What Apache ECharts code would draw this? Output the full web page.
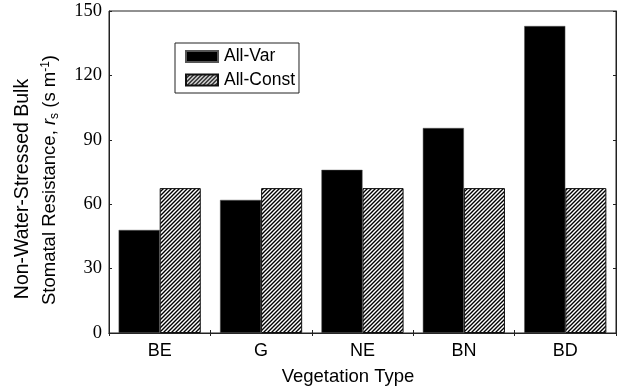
<!DOCTYPE html>
<html>
<head>
<meta charset="utf-8">
<script src="https://cdn.jsdelivr.net/npm/echarts@6/dist/echarts.min.js"></script>
<style>
html,body{margin:0;padding:0;background:#fff;}
#chart{width:621px;height:390px;}
</style>
</head>
<body>
<div id="chart"></div>
<script>
var categories = ['BE', 'G', 'NE', 'BN', 'BD'];
var allVar = [48, 62, 76, 95.5, 143];
var allConst = [67.5, 67.5, 67.5, 67.5, 67.5];
var seriesNames = ['All-Var', 'All-Const'];
var yTicks = {min: 0, max: 150, interval: 30};

function hatch() {
  var c = document.createElement('canvas');
  c.width = 4; c.height = 4;
  var g = c.getContext('2d');
  g.fillStyle = '#fff';
  g.fillRect(0, 0, 4, 4);
  g.strokeStyle = '#000';
  g.lineWidth = 1.4;
  g.beginPath();
  g.moveTo(-1, 5); g.lineTo(5, -1);
  g.moveTo(-1, 1); g.lineTo(1, -1);
  g.moveTo(3, 5); g.lineTo(5, 3);
  g.stroke();
  return c;
}
var pattern = {image: hatch(), repeat: 'repeat'};

var chart = echarts.init(document.getElementById('chart'), null, {renderer: 'canvas'});
var sans = 'Liberation Sans, Arial, sans-serif';
var serif = 'Liberation Serif, Times New Roman, serif';
var axisCol = '#222';

chart.setOption({
  animation: false,
  backgroundColor: '#fff',
  grid: {left: 109, right: 5, top: 11, bottom: 57, show: true, borderColor: axisCol, borderWidth: 1, backgroundColor: 'transparent'},
  legend: {
    orient: 'vertical', left: 175, top: 43,
    padding: [3.5, 4, 3, 10],
    itemWidth: 32, itemHeight: 11, itemGap: 3.5,
    borderColor: '#222', borderWidth: 1,
    icon: 'rect',
    textStyle: {fontFamily: sans, fontSize: 17.5, lineHeight: 20, color: '#000', padding: [0, 0, 0, 1]},
    data: seriesNames
  },
  xAxis: [{
    type: 'category', data: categories, position: 'bottom',
    axisLine: {lineStyle: {color: axisCol, width: 1}},
    axisTick: {show: true, inside: true, length: 3, lineStyle: {color: axisCol}},
    axisLabel: {fontFamily: sans, fontSize: 18, color: '#000', margin: 9}
  }, {
    type: 'category', data: categories, position: 'top',
    axisLine: {lineStyle: {color: axisCol, width: 1}},
    axisTick: {show: true, inside: true, length: 3, lineStyle: {color: axisCol}},
    axisLabel: {show: false}
  }],
  yAxis: [{
    type: 'value', min: yTicks.min, max: yTicks.max, interval: yTicks.interval,
    axisLine: {show: true, lineStyle: {color: axisCol, width: 1}},
    axisTick: {show: true, inside: true, length: 3, lineStyle: {color: axisCol}},
    splitLine: {show: false},
    axisLabel: {fontFamily: serif, fontSize: 18.5, color: '#000', margin: 7}
  }, {
    type: 'value', min: yTicks.min, max: yTicks.max, interval: yTicks.interval, position: 'right',
    axisLine: {show: true, lineStyle: {color: axisCol, width: 1}},
    axisTick: {show: true, inside: true, length: 3, lineStyle: {color: axisCol}},
    splitLine: {show: false},
    axisLabel: {show: false}
  }],
  series: [{
    name: seriesNames[0], type: 'bar', data: allVar,
    barWidth: '40.5%', barGap: '0%',
    itemStyle: {color: '#000', borderColor: '#555', borderWidth: 0.5}
  }, {
    name: seriesNames[1], type: 'bar', data: allConst,
    barWidth: '40.5%', barGap: '0%',
    itemStyle: {color: pattern, borderColor: '#111', borderWidth: 1}
  }],
  graphic: [{
    type: 'text', x: 23, y: 189, rotation: Math.PI / 2,
    style: {text: 'Non-Water-Stressed Bulk', font: '19.5px ' + sans, fill: '#000', textAlign: 'center', textVerticalAlign: 'middle'}
  }, {
    type: 'text', x: 50, y: 180, rotation: Math.PI / 2,
    style: {
      text: 'Stomatal Resistance, {i|r}{sub|s} (s m{sup|-1})',
      font: '18.5px ' + sans, fill: '#000', textAlign: 'center', textVerticalAlign: 'middle',
      rich: {
        i: {fontStyle: 'italic', fontFamily: sans, fontSize: 18.5, fill: '#000'},
        sub: {fontFamily: sans, fontSize: 12, fill: '#000', verticalAlign: 'bottom', padding: [9, 0, 0, 0]},
        sup: {fontFamily: sans, fontSize: 12, fill: '#000', verticalAlign: 'top', padding: [0, 0, 9, 0]}
      }
    }
  }, {
    type: 'text', x: 348, y: 377,
    style: {text: 'Vegetation Type', font: '18.5px ' + sans, fill: '#000', textAlign: 'center', textVerticalAlign: 'middle'}
  }]
});
</script>
</body>
</html>
